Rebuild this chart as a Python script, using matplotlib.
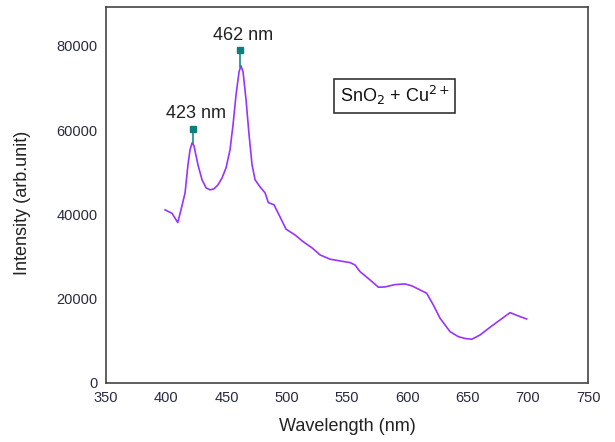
import matplotlib
matplotlib.use("Agg")
from matplotlib import pyplot as plt

plt.rcParams["font.family"] = ["Liberation Sans", "DejaVu Sans"]

# emission spectrum
wavelength = [399.0, 404.8, 409.5, 412.2, 415.6, 418.0, 419.7, 421.4, 423.0, 426.3,
              429.7, 433.0, 436.3, 439.6, 442.9, 446.3, 449.6, 452.9, 455.4, 457.9,
              460.4, 462.0, 463.7, 466.2, 468.7, 471.2, 473.7, 477.8, 482.0, 484.7,
              489.4, 494.4, 499.4, 506.8, 513.5, 521.0, 527.6, 535.9, 544.2, 552.5,
              556.6, 560.8, 569.1, 576.0, 581.5, 589.8, 598.1, 603.9, 610.6, 616.1,
              621.6, 627.2, 635.5, 642.4, 647.9, 653.5, 660.4, 668.7, 677.0, 685.3,
              693.6, 699.1]
intensity = [41070, 40240, 38060, 41070, 45100, 51740, 55300, 56970, 56260, 51740,
             48190, 46290, 45820, 46050, 47000, 48660, 51040, 55310, 61250, 68370,
             73830, 75250, 73830, 67180, 58870, 51740, 48190, 46530, 45100, 42800,
             42260, 39410, 36490, 35130, 33540, 32050, 30390, 29370, 28960, 28560,
             28010, 26420, 24450, 22720, 22790, 23340, 23500, 23030, 22080, 21290,
             18520, 15360, 12180, 10990, 10560, 10370, 11390, 13220, 14960, 16690,
             15740, 15190]

peak_labels = ["423 nm", "462 nm"]
peak_x = [422.0, 461.0]
peak_base = [56900, 75000]
peak_top = [60300, 79000]

fig = plt.figure(figsize=(6.15, 4.42), dpi=100)
ax = fig.add_axes([0.1724, 0.1335, 0.7837, 0.8507])

ax.plot(wavelength, intensity, color="#9933ff", lw=1.2)

for lab, px, pb, pt in zip(peak_labels, peak_x, peak_base, peak_top):
    ax.plot([px, px], [pb, pt], color="#1a8a8a", lw=1.2)
    ax.plot(px, pt, marker="s", ms=4, color="#0e7f7f", mec="#0e7f7f")
    ax.text(px + 3, pt + 1500, lab, ha="center", va="bottom", fontsize=13, color="#222222")

ax.text(589.8, 68100, "SnO$_2$ + Cu$^{2+}$", ha="center", va="center", fontsize=13,
        color="#111111",
        bbox=dict(boxstyle="square,pad=0.3", fc="white", ec="#333333", lw=1.2))

ax.set_xlim(350, 750)
ax.set_ylim(0, 89200)
ax.set_xticks(range(350, 751, 50))
ax.set_yticks(range(0, 80001, 20000))
ax.tick_params(length=0, labelsize=10.5, labelcolor="#2a2a40", pad=6)
for s in ax.spines.values():
    s.set_color("#444444")
    s.set_linewidth(1.2)

ax.set_xlabel("Wavelength (nm)", fontsize=13, color="#222222", labelpad=9)
ax.set_ylabel("Intensity (arb.unit)", fontsize=13, color="#222222")
ax.yaxis.set_label_coords(-0.155, 0.48)

fig.savefig("out.png", dpi=100)
